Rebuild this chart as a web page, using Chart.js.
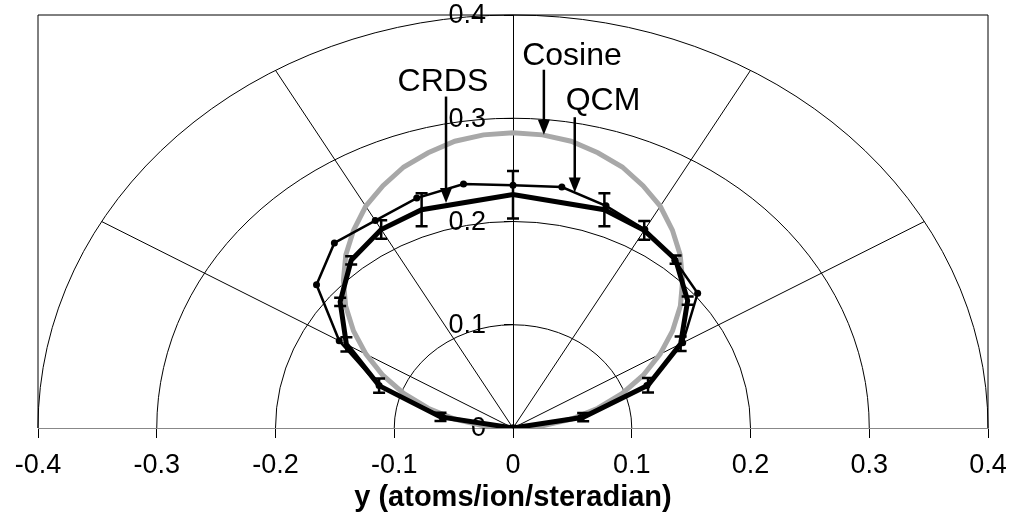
<!DOCTYPE html>
<html>
<head>
<meta charset="utf-8">
<script src="https://cdn.jsdelivr.net/npm/chart.js@4/dist/chart.umd.min.js"></script>
<style>
html,body{margin:0;padding:0;background:#fff}
#wrap{width:1017px;height:518px}
</style>
</head>
<body>
<div id="wrap"><canvas id="chart"></canvas></div>
<script>
// CRDS angles (degrees from +x axis), radius + error
const crdsAngles = [0,10,20,30,40,50,60,70,90,110,120,130,140,150,160,170,180];
const crdsR   = [0,0.060,0.121,0.163,0.192,0.213,0.221,0.225,0.226,0.225,0.222,0.212,0.190,0.162,0.120,0.062,0];
const crdsErr = [0,0.004,0.007,0.007,0.004,0.004,0.009,0.016,0.023,0.016,0.009,0.004,0.004,0.007,0.007,0.004,0];

// QCM angles + radius
const qcmAngles = [0,10,20,30,40,50,60,70,80,90,100,110,120,130,140,150,160,170,180];
const qcmR = [0,0.058,0.120,0.165,0.203,0.212,0.222,0.229,0.237,0.235,0.240,0.237,0.232,0.234,0.216,0.169,0.120,0.060,0];

// Cosine curve (5 deg steps)
const cosAngles = [0,5,10,15,20,25,30,35,40,45,50,55,60,65,70,75,80,85,90,95,100,105,110,115,120,125,130,135,140,145,150,155,160,165,170,175,180];
const cosR = [0,0.025,0.050,0.074,0.098,0.121,0.143,0.164,0.184,0.202,0.219,0.234,0.248,0.259,0.269,0.276,0.282,0.285,0.286,
              0.285,0.282,0.276,0.269,0.259,0.248,0.234,0.219,0.202,0.184,0.164,0.143,0.121,0.098,0.074,0.050,0.025,0];

// Axes / polar grid
const xTicks = [-0.4,-0.3,-0.2,-0.1,0,0.1,0.2,0.3,0.4];
const yTicks = [0,0.1,0.2,0.3,0.4];
const gridRadii = [0.1,0.2,0.3,0.4];
const spokeAngles = [30,60,120,150];

const FONT = "'Liberation Sans', Arial, sans-serif";

function toXY(ang, r) {
    return ang.map((a, i) => {
        const t = a * Math.PI / 180;
        return { x: r[i] * Math.cos(t), y: r[i] * Math.sin(t) };
    });
}

function fmt(v) { return String(Math.round(v * 10) / 10); }

// Text labels with arrows (data coords)
const notes = [
    { text: 'CRDS',   tx: -0.0590, ty: 0.335, ax: -0.0564, ay1: 0.321, ay2: 0.218 },
    { text: 'Cosine', tx:  0.0497, ty: 0.360, ax:  0.0260, ay1: 0.347, ay2: 0.284 },
    { text: 'QCM',    tx:  0.0758, ty: 0.317, ax:  0.0520, ay1: 0.301, ay2: 0.228 }
];

// Polar grid + frame
const polarGrid = {
    id: 'polarGrid',
    beforeDatasetsDraw(chart) {
        const { ctx, chartArea: a, scales: { x, y } } = chart;
        const x0 = x.getPixelForValue(0), y0 = y.getPixelForValue(0);
        ctx.save();
        ctx.strokeStyle = '#000';
        ctx.lineWidth = 1;
        ctx.beginPath();
        ctx.moveTo(a.left, a.bottom); ctx.lineTo(a.left, a.top);
        ctx.lineTo(a.right, a.top); ctx.lineTo(a.right, a.bottom);
        ctx.stroke();
        gridRadii.forEach(r => {
            ctx.beginPath();
            ctx.ellipse(x0, y0, x.getPixelForValue(r) - x0, y0 - y.getPixelForValue(r), 0, Math.PI, 2 * Math.PI);
            ctx.stroke();
        });
        const R = gridRadii[gridRadii.length - 1];
        spokeAngles.forEach(d => {
            const t = d * Math.PI / 180;
            ctx.beginPath();
            ctx.moveTo(x0, y0);
            ctx.lineTo(x.getPixelForValue(R * Math.cos(t)), y.getPixelForValue(R * Math.sin(t)));
            ctx.stroke();
        });
        // y tick labels, left of the x=0 axis
        ctx.fillStyle = '#000';
        ctx.font = '27px ' + FONT;
        ctx.textAlign = 'right';
        ctx.textBaseline = 'middle';
        y.ticks.forEach(t => {
            ctx.fillText(fmt(t.value), x0 - 27, y.getPixelForValue(t.value) + 1);
        });
        ctx.restore();
    }
};

// Error bars on CRDS + annotations
const extras = {
    id: 'extras',
    afterDatasetsDraw(chart) {
        const { ctx, scales: { x, y } } = chart;
        const meta = chart.getDatasetMeta(1);
        ctx.save();
        ctx.strokeStyle = '#000';
        ctx.lineWidth = 2.5;
        meta.data.forEach((pt, i) => {
            const e = crdsErr[i];
            if (!e) return;
            const v = chart.data.datasets[1].data[i].y;
            const yt = y.getPixelForValue(v + e), yb = y.getPixelForValue(v - e);
            ctx.beginPath();
            ctx.moveTo(pt.x, yt); ctx.lineTo(pt.x, yb);
            ctx.moveTo(pt.x - 6, yt); ctx.lineTo(pt.x + 6, yt);
            ctx.moveTo(pt.x - 6, yb); ctx.lineTo(pt.x + 6, yb);
            ctx.stroke();
        });
        // arrows
        ctx.fillStyle = '#000';
        ctx.lineWidth = 2.5;
        notes.forEach(n => {
            const px = x.getPixelForValue(n.ax);
            const p1 = y.getPixelForValue(n.ay1), p2 = y.getPixelForValue(n.ay2);
            ctx.beginPath();
            ctx.moveTo(px, p1); ctx.lineTo(px, p2 - 12);
            ctx.stroke();
            ctx.beginPath();
            ctx.moveTo(px - 6, p2 - 15); ctx.lineTo(px + 6, p2 - 15); ctx.lineTo(px, p2);
            ctx.closePath();
            ctx.fill();
            ctx.font = '32px ' + FONT;
            ctx.textAlign = 'center';
            ctx.textBaseline = 'middle';
            ctx.fillText(n.text, x.getPixelForValue(n.tx), y.getPixelForValue(n.ty));
        });
        ctx.restore();
    }
};

new Chart(document.getElementById('chart'), {
    type: 'scatter',
    data: {
        datasets: [
            { label: 'QCM', data: toXY(qcmAngles, qcmR), showLine: true, borderColor: '#000', borderWidth: 2.5,
              pointRadius: 3.5, pointBackgroundColor: '#000', pointBorderWidth: 0 },
            { label: 'CRDS', data: toXY(crdsAngles, crdsR), showLine: true, borderColor: '#000', borderWidth: 5,
              pointRadius: 0 },
            { label: 'Cosine', data: toXY(cosAngles, cosR), showLine: true, borderColor: '#a8a8a8', borderWidth: 5,
              pointRadius: 0 }
        ]
    },
    options: {
        responsive: true,
        maintainAspectRatio: false,
        animation: false,
        layout: { padding: { left: 38, right: 29, top: 15, bottom: 0 } },
        plugins: { legend: { display: false }, tooltip: { enabled: false } },
        scales: {
            x: {
                type: 'linear', min: -0.4, max: 0.4,
                afterBuildTicks: s => { s.ticks = xTicks.map(v => ({ value: v })); },
                afterFit: s => { s.height = 90; s.paddingLeft = 0; s.paddingRight = 0; },
                ticks: { color: '#000', font: { family: FONT, size: 27 }, padding: 11,
                         maxRotation: 0, callback: v => fmt(v) },
                grid: { drawOnChartArea: false, drawTicks: true, tickLength: 10, color: '#000' },
                border: { display: true, color: '#888', dash: [5, 3], width: 1 },
                title: { display: true, text: 'y (atoms/ion/steradian)', color: '#000',
                         font: { family: FONT, size: 29, weight: 'bold' }, padding: { top: 0, bottom: 3 } }
            },
            y: {
                type: 'linear', min: 0, max: 0.4, position: { x: 0 },
                afterBuildTicks: s => { s.ticks = yTicks.map(v => ({ value: v })); },
                afterFit: s => { s.paddingTop = 0; s.paddingBottom = 0; },
                ticks: { display: false },
                grid: { drawOnChartArea: false, drawTicks: true, tickLength: 9, color: '#000' },
                border: { display: true, color: '#000', width: 1 }
            }
        }
    },
    plugins: [polarGrid, extras]
});
</script>
</body>
</html>
